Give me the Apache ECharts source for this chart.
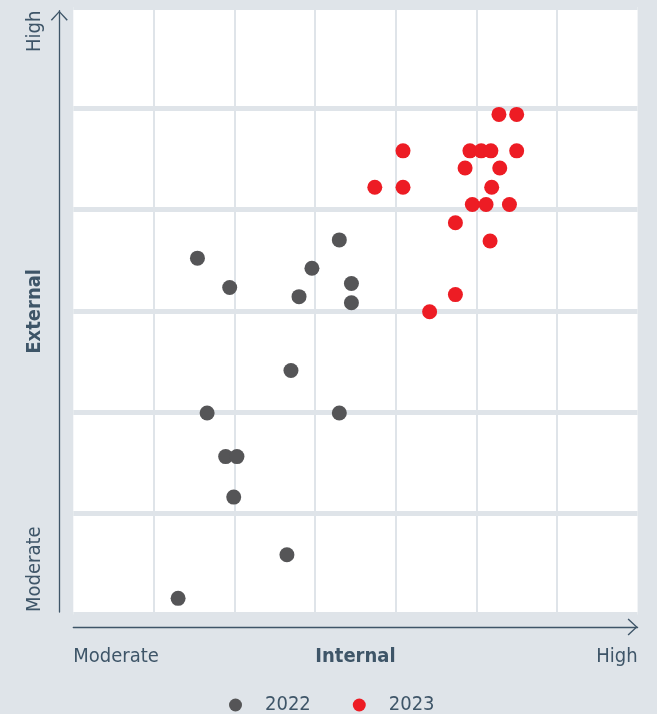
<!DOCTYPE html>
<html><head><meta charset="utf-8">
<script src="https://cdn.jsdelivr.net/npm/echarts@6/dist/echarts.min.js"></script>
<style>html,body{margin:0;padding:0;background:#dfe4e9}#c{width:657px;height:714px}</style>
</head><body><div id="c"></div>
<script>
// ---- data (x: Internal, 0..7 columns; y: External, 0..6 rows) ----
const seriesNames = ['2022', '2023'];
const data2022 = [
  [1.54, 3.52], [1.94, 3.23], [2.80, 3.14], [2.96, 3.42], [3.30, 3.70],
  [3.45, 3.27], [3.45, 3.08], [2.70, 2.41], [1.66, 1.99], [3.30, 1.99],
  [1.89, 1.56], [2.03, 1.56], [1.99, 1.16], [2.65, 0.59], [1.30, 0.16]
];
const data2023 = [
  [3.74, 4.22], [4.09, 4.58], [4.09, 4.22], [4.42, 2.99], [4.74, 3.16],
  [4.74, 3.87], [4.86, 4.41], [4.92, 4.58], [4.95, 4.05], [5.06, 4.58],
  [5.18, 4.58], [5.12, 4.05], [5.19, 4.22], [5.17, 3.69], [5.29, 4.41],
  [5.28, 4.94], [5.41, 4.05], [5.50, 4.94], [5.50, 4.58]
];
const xTickLabels = ['Moderate', 'High'];
const yTickLabels = ['Moderate', 'High'];
const xAxisTitle = 'Internal';
const yAxisTitle = 'External';

// ---- styling ----
const BG = '#dfe4e9';
const INK = '#3e5568';
const FONT = "'DejaVu Sans Condensed','Liberation Sans Narrow',sans-serif";
const FS = 20;
const CHEVRON = 'path://M8.5,0 L17,9 L15.9,10 L8.5,1.9 L1.1,10 L0,9 Z';

const chart = echarts.init(document.getElementById('c'), null, {renderer: 'canvas'});
chart.setOption({
  backgroundColor: BG,
  animation: false,
  textStyle: {fontFamily: FONT},
  grid: [
    {left: 73.3, right: 19.4, top: 7.05, bottom: 99.45, show: true, backgroundColor: '#ffffff', borderWidth: 0,
     containLabel: false, outerBoundsMode: 'none'},
    {left: 73.3, right: 19.4, top: 10.7, bottom: 102, show: false, containLabel: false, outerBoundsMode: 'none'}
  ],
  xAxis: [
    {gridIndex: 0, type: 'value', min: 0, max: 7, interval: 1,
     axisLine: {show: false}, axisTick: {show: false}, axisLabel: {show: false},
     splitLine: {show: true, showMinLine: false, showMaxLine: false, lineStyle: {color: BG, width: 2}}},
    {gridIndex: 1, type: 'value', min: 0, max: 1, interval: 1, position: 'bottom', offset: 15,
     axisLine: {show: true, onZero: false, symbol: ['none', CHEVRON], symbolSize: [17, 10], symbolOffset: [0, -5],
                lineStyle: {color: INK, width: 1.3}},
     axisTick: {show: false}, splitLine: {show: false},
     axisLabel: {show: true, margin: 20, color: INK, fontFamily: FONT, fontSize: FS,
                 showMinLabel: true, showMaxLabel: true, alignMinLabel: 'left', alignMaxLabel: 'right',
                 formatter: v => xTickLabels[v]},
     name: xAxisTitle, nameLocation: 'middle', nameGap: 19.5, nameMoveOverlap: false,
     nameTextStyle: {color: INK, fontFamily: FONT, fontSize: FS, fontWeight: 'bold'}}
  ],
  yAxis: [
    {gridIndex: 0, type: 'value', min: 0, max: 6, interval: 1,
     axisLine: {show: false}, axisTick: {show: false}, axisLabel: {show: false},
     splitLine: {show: true, lineStyle: {color: BG, width: 5}}},
    {gridIndex: 1, type: 'value', min: 0, max: 1, interval: 1, position: 'left', offset: 14,
     axisLine: {show: true, onZero: false, symbol: ['none', CHEVRON], symbolSize: [17, 10], symbolOffset: [0, -5],
                lineStyle: {color: INK, width: 1.3}},
     axisTick: {show: false}, splitLine: {show: false},
     axisLabel: {show: true, rotate: 90, margin: 15, color: INK, fontFamily: FONT, fontSize: FS,
                 showMinLabel: true, showMaxLabel: true, alignMinLabel: 'left', alignMaxLabel: 'right',
                 formatter: v => yTickLabels[v]},
     name: yAxisTitle, nameLocation: 'middle', nameGap: 15, nameRotate: 90, nameMoveOverlap: false,
     nameTextStyle: {color: INK, fontFamily: FONT, fontSize: FS, fontWeight: 'bold'}}
  ],
  legend: {
    data: seriesNames, left: 229, top: 695, orient: 'horizontal', padding: 0,
    icon: 'circle', itemWidth: 13, itemHeight: 13, itemGap: 42,
    textStyle: {color: INK, fontFamily: FONT, fontSize: FS, padding: [0, 0, 0, 18]}
  },
  series: [
    {name: seriesNames[0], type: 'scatter', xAxisIndex: 0, yAxisIndex: 0, data: data2022,
     symbol: 'circle', symbolSize: 15, itemStyle: {color: '#555557', opacity: 1}},
    {name: seriesNames[1], type: 'scatter', xAxisIndex: 0, yAxisIndex: 0, data: data2023,
     symbol: 'circle', symbolSize: 15, itemStyle: {color: '#ed1c24', opacity: 1}}
  ]
});
</script>
</body></html>
